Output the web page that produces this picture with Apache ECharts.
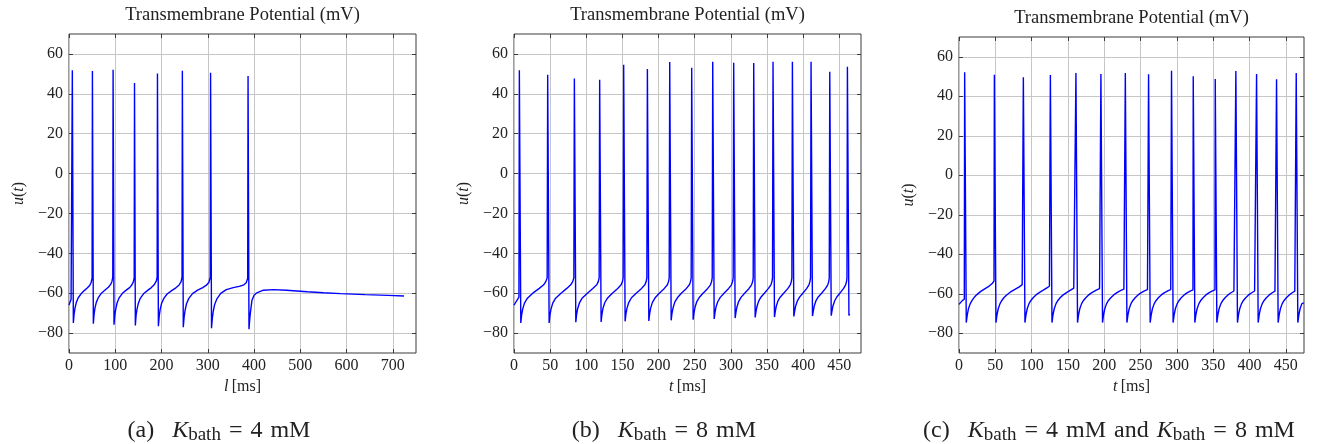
<!DOCTYPE html>
<html>
<head>
<meta charset="utf-8">
<script src="https://cdn.jsdelivr.net/npm/echarts@6/dist/echarts.min.js"></script>
<style>
  html, body { margin: 0; padding: 0; background: #fff; }
  #chart { width: 1328px; height: 444px; }
</style>
</head>
<body>
<div id="chart"></div>
<script>
// tick values
const yTicks = [-80, -60, -40, -20, 0, 20, 40, 60];
const xTicksA = [0, 100, 200, 300, 400, 500, 600, 700];
const xTicksB = [0, 50, 100, 150, 200, 250, 300, 350, 400, 450];
const xTicksC = [0, 50, 100, 150, 200, 250, 300, 350, 400, 450];

// (a) K_bath = 4 mM : [t ms, u mV]
const traceA = [
  [0,-66],[2,-64.6],[4.5,-63.2],[6.6,-62.2],[7.2,51.8],[9.4,-74.9],
  [11,-70.5],[13,-67.5],[16,-64.5],[20,-62.3],[26,-60.3],[33,-58.7],[40,-57.3],[45,-56],[48,-54.5],[49.9,-52.5],[50.6,51.4],[52.6,-75.3],
  [54.2,-70.6],[56,-67.6],[59,-64.6],[63,-62.4],[70,-60],[78,-58.4],[85,-57],[90,-55.6],[93,-54],[94.6,-52],[95.3,52.1],[97.3,-75.8],
  [99,-71],[101,-68],[104,-64.8],[108,-62.5],[115,-60.2],[123,-58.6],[131,-57.2],[136,-55.8],[139.3,-54.2],[140.9,-52.2],[141.6,45.4],[143.4,-76.2],
  [145,-71.2],[147,-68],[150,-65],[154,-62.6],[161,-60.3],[170,-58.6],[178,-57.2],[184,-55.8],[188.6,-54],[190.5,-52],[191.2,50.2],[193.2,-76.6],
  [195,-71.5],[197,-68.2],[200,-65.2],[205,-62.6],[212,-60.4],[222,-58.7],[231,-57.3],[238,-55.9],[242.3,-54.2],[244.3,-52],[245,51.6],[247,-77.1],
  [248.8,-72],[251,-68.5],[254,-65.3],[259,-62.6],[267,-60.2],[278,-58.5],[289,-57.2],[297,-56],[302.5,-54.5],[305.2,-52],[306,50.6],[308,-77.6],
  [309.8,-72.5],[312,-68.8],[315,-65.5],[320,-62.7],[328,-60.1],[340,-58.2],[355,-57.2],[368,-56.6],[378,-55.8],[383,-54.8],[386.2,-52.5],[387,48.9],[389,-78.1],
  [391,-72],[393,-68],[395.5,-63.5],[400,-61],[406,-59.8],[420,-58.5],[442,-58.2],[470,-58.5],[515,-59.3],[550,-59.8],[587,-60.2],[640,-60.7],[690,-61.1],[724,-61.4]
];

// (b) K_bath = 8 mM
const traceB = [
  [0,-66],[2,-64.8],[4.5,-63.3],[6.8,-62],[7.4,51.8],[9.4,-74.9],
  [10.5,-71],[12,-68],[14.5,-65],[18.5,-62.5],[26,-60],[35,-57.6],[41,-55.8],[44,-54.2],[45.9,-52.3],[46.6,49.6],[48.6,-74.9],
  [49.7,-71],[51.2,-68],[53.6,-65],[57.6,-62.5],[65,-60],[73,-57.6],[78.5,-55.8],[81.2,-54.2],[82.8,-52.3],[83.5,47.7],[85.5,-74.6],
  [86.6,-70.8],[88,-67.8],[90.5,-64.9],[94.5,-62.4],[101.5,-60],[109,-57.6],[114.5,-55.8],[116.6,-54.2],[117.8,-52.3],[118.5,47.1],[120.5,-74.4],
  [121.6,-70.7],[123,-67.7],[125.5,-64.8],[129.5,-62.4],[136,-60],[143.5,-57.6],[148.2,-55.8],[150,-54.2],[151,-52.3],[151.7,54.6],[153.7,-74.1],
  [154.8,-70.5],[156.2,-67.6],[158.7,-64.7],[162.5,-62.3],[169,-60],[176.5,-57.6],[181,-55.8],[182.8,-54.2],[183.8,-52.3],[184.5,52.4],[186.5,-73.9],
  [187.6,-70.4],[189,-67.5],[191.5,-64.6],[195.2,-62.3],[201,-60],[208,-57.6],[212.2,-55.8],[213.8,-54.2],[214.7,-52.3],[215.4,56],[217.4,-73.6],
  [218.5,-70.2],[220,-67.4],[222.4,-64.5],[226,-62.3],[231.5,-60],[238.5,-57.6],[242.6,-55.8],[244.2,-54.2],[245.1,-52.3],[245.8,53.1],[247.8,-73.3],
  [248.9,-70],[250.3,-67.2],[252.7,-64.4],[256.2,-62.2],[261.5,-60],[268,-57.6],[271.8,-55.8],[273.3,-54.2],[274.2,-52.3],[274.9,56.1],[276.9,-72.9],
  [278,-69.8],[279.4,-67],[281.8,-64.3],[285.3,-62.1],[290.5,-60],[297,-57.6],[300.8,-55.8],[302.3,-54.2],[303.2,-52.3],[303.9,55.6],[305.9,-72.5],
  [307,-69.6],[308.4,-66.9],[310.7,-64.2],[314,-62.1],[319,-60],[325.2,-57.6],[328.6,-55.8],[330.1,-54.2],[330.9,-52.3],[331.6,55.5],[333.6,-72.2],
  [334.7,-69.4],[336,-66.8],[338.3,-64.1],[341.5,-62],[346.3,-60],[352,-57.6],[355.4,-55.8],[356.8,-54.2],[357.6,-52.3],[358.3,56.1],[360.3,-72],
  [361.4,-69.3],[362.7,-66.7],[365,-64],[368.2,-62],[373,-60],[379,-57.6],[382.2,-55.8],[383.6,-54.2],[384.4,-52.3],[385.1,56.1],[387.1,-71.7],
  [388.2,-69.1],[389.5,-66.6],[391.8,-64],[395,-62],[399.5,-60],[405,-57.6],[408,-55.8],[409.4,-54.2],[410.2,-52.3],[410.9,56.1],[412.9,-71.5],
  [414,-69],[415.3,-66.5],[417.6,-63.9],[420.8,-61.9],[425.5,-60],[431,-57.6],[434,-55.8],[435.4,-54.2],[436.1,-52.3],[436.8,51.1],[438.8,-71.3],
  [439.9,-68.9],[441.2,-66.4],[443.5,-63.9],[446.5,-61.9],[450.8,-60],[456,-57.6],[458.7,-55.8],[460,-54.2],[460.6,-52.3],[461.2,53.6],[463.3,-71.2],[464.3,-70.4],[465,-70.6]
];

// (c) K_bath = 4 mM and K_bath = 8 mM
const traceC = [
  [0,-65.4],[2,-64.4],[4.5,-63.5],[7.3,-62.8],[7.8,52.1],[10,-74.6],
  [11.5,-70.5],[13,-67.6],[15.5,-65],[18,-63.4],[21,-61.8],[25,-60.3],[30,-58.8],[36,-57.4],[42,-56],[46,-54.7],[48.2,-53.6],[48.7,50.9],[50.9,-74.6],
  [52.4,-70.5],[54,-67.6],[56.5,-65],[59,-63.4],[62,-61.9],[66,-60.5],[71,-59.1],[77,-57.8],[83,-56.5],[87,-55.4],[88.2,-54.8],[88.6,49.6],[90.8,-74.6],
  [92.3,-70.5],[93.9,-67.6],[96.4,-65],[99,-63.4],[102,-62],[106,-60.6],[111,-59.3],[116,-58.2],[121,-57],[124.5,-56.2],[125.4,-55.8],[125.8,50.8],[128,-74.6],
  [129.5,-70.5],[131.1,-67.6],[133.6,-65],[136.2,-63.4],[139.2,-62],[143,-60.7],[148,-59.4],[153,-58.3],[158,-57.2],[160.6,-56.5],[161,51.8],[163.2,-74.6],
  [164.7,-70.5],[166.3,-67.6],[168.8,-65],[171.4,-63.4],[174.5,-62],[178.5,-60.6],[183.5,-59.3],[189,-58.2],[193.5,-57.4],[195,-57],[195.4,51.3],[197.6,-74.6],
  [199.1,-70.5],[200.7,-67.6],[203.2,-65],[205.8,-63.4],[209,-62],[213,-60.6],[218,-59.3],[223,-58.3],[227,-57.7],[228.6,-57.5],[229,51.8],[231.2,-74.6],
  [232.7,-70.5],[234.3,-67.6],[236.8,-65],[239.4,-63.4],[242.5,-62],[246.5,-60.6],[251,-59.4],[256,-58.4],[259.5,-57.9],[260.6,-57.8],[261,51.1],[263.2,-74.6],
  [264.7,-70.5],[266.3,-67.6],[268.8,-65],[271.4,-63.4],[274.5,-62],[278.5,-60.6],[283,-59.4],[288,-58.4],[291.5,-57.9],[292.2,-57.8],[292.6,52.9],[294.8,-74.6],
  [296.3,-70.5],[297.9,-67.6],[300.4,-65],[303,-63.4],[306,-62],[310,-60.6],[314.5,-59.4],[319,-58.5],[322.1,-58],[322.5,50.1],[324.7,-74.6],
  [326.2,-70.5],[327.8,-67.6],[330.3,-65],[332.9,-63.4],[336,-62],[340,-60.6],[344.5,-59.4],[349,-58.5],[352.4,-58],[352.8,48.7],[355,-74.6],
  [356.5,-70.5],[358.1,-67.6],[360.6,-65],[363.2,-63.4],[366.3,-62],[370.3,-60.6],[374.5,-59.5],[378.5,-58.6],[380.8,-58.1],[381.2,52.8],[383.4,-74.6],
  [384.9,-70.5],[386.5,-67.6],[389,-65],[391.6,-63.4],[394.7,-62],[398.7,-60.6],[403,-59.5],[407,-58.6],[409.3,-58.1],[409.7,51.3],[411.9,-74.6],
  [413.4,-70.5],[415,-67.6],[417.5,-65],[420.1,-63.4],[423.2,-62],[427.2,-60.6],[431.3,-59.5],[435,-58.7],[436.8,-58.2],[437.2,48.6],[439.4,-74.6],
  [440.9,-70.5],[442.5,-67.6],[445,-65],[447.6,-63.4],[450.7,-62],[454.7,-60.6],[458.8,-59.5],[462.3,-58.7],[463.9,-58.2],[464.3,51.8],[466.5,-74.6],
  [468,-70.5],[469.6,-67.6],[472.1,-65],[474.8,-64.6]
];

const plotTitle = 'Transmembrane Potential (mV)';
const xNames = ['l', 't', 't'];
const captions = [
  '{r|(a) \u2002}{i|K}{s|bath}{r| \u200A= \u200A4 \u200AmM}',
  '{r|(b) \u2002}{i|K}{s|bath}{r| \u200A= \u200A8 \u200AmM}',
  '{r|(c) \u2002}{i|K}{s|bath}{r| \u200A= \u200A4 \u200AmM \u200Aand \u200A}{i|K}{s|bath}{r| \u200A= \u200A8 \u200AmM}'
];

const serif = '"Liberation Serif", "DejaVu Serif", serif';
const ink = '#222';
const frame = '#3a3a3a';

const panels = [
  { left: 69,  top: 34, width: 347, height: 319, xMax: 750, xTicks: xTicksA, data: traceA, mid: 219 },
  { left: 514, top: 34, width: 347, height: 319, xMax: 480, xTicks: xTicksB, data: traceB, mid: 664 },
  { left: 959, top: 37, width: 345, height: 316, xMax: 475, xTicks: xTicksC, data: traceC, mid: 1109 }
];

const fmt = (v) => (v < 0 ? '\u2212' + Math.abs(v) : String(v));

const option = {
  animation: false,
  backgroundColor: '#fff',
  title: [],
  grid: [],
  xAxis: [],
  yAxis: [],
  series: []
};

panels.forEach((p, i) => {
  option.grid.push({
    left: p.left, top: p.top, width: p.width, height: p.height,
    show: true, borderColor: frame, borderWidth: 1, backgroundColor: 'transparent'
  });

  // plot title
  option.title.push({
    text: plotTitle,
    left: p.left + p.width / 2,
    top: 6 + (p.top - 34),
    textAlign: 'center',
    padding: 0,
    textStyle: { fontFamily: serif, fontSize: 18.5, fontWeight: 'normal', color: ink }
  });

  // caption under the panel
  option.title.push({
    text: captions[i],
    left: p.mid,
    top: 416,
    textAlign: 'center',
    padding: 0,
    textStyle: {
      fontWeight: 'normal',
      rich: {
        r: { fontFamily: serif, fontSize: 24, fontWeight: 'normal', color: ink },
        i: { fontFamily: serif, fontSize: 24, fontWeight: 'normal', fontStyle: 'italic', color: ink },
        s: { fontFamily: serif, fontSize: 19, fontWeight: 'normal', color: ink, padding: [10, 0, 0, 0] }
      }
    }
  });

  const tickStyle = { inside: true, length: 4, lineStyle: { color: frame, width: 1 } };

  option.xAxis.push({
    type: 'value', gridIndex: i, position: 'bottom', min: 0, max: p.xMax,
    axisLine: { show: false, onZero: false },
    axisTick: Object.assign({ customValues: p.xTicks }, tickStyle),
    axisLabel: { customValues: p.xTicks, margin: 5, fontFamily: serif, fontSize: 16, color: ink, formatter: fmt },
    splitLine: { show: true, lineStyle: { color: '#c6c6c6', width: 1 } },
    name: '{i|' + xNames[i] + '} {r|[ms]}',
    nameLocation: 'middle',
    nameGap: 26,
    nameTextStyle: {
      rich: {
        i: { fontFamily: serif, fontSize: 16, fontStyle: 'italic', color: ink },
        r: { fontFamily: serif, fontSize: 16, color: ink }
      }
    }
  });
  option.xAxis.push({
    type: 'value', gridIndex: i, position: 'top', min: 0, max: p.xMax,
    axisLine: { show: false, onZero: false },
    axisTick: Object.assign({ customValues: p.xTicks }, tickStyle),
    axisLabel: { show: false },
    splitLine: { show: false }
  });

  option.yAxis.push({
    type: 'value', gridIndex: i, position: 'left', min: -90, max: 70,
    axisLine: { show: false, onZero: false },
    axisTick: Object.assign({ customValues: yTicks }, tickStyle),
    axisLabel: { customValues: yTicks, margin: 6, fontFamily: serif, fontSize: 16, color: ink, formatter: fmt },
    splitLine: { show: true, lineStyle: { color: '#c6c6c6', width: 1 } },
    name: '{i|u}{r|(}{i|t}{r|)}',
    nameLocation: 'middle',
    nameRotate: 90,
    nameGap: 42,
    nameTextStyle: {
      rich: {
        i: { fontFamily: serif, fontSize: 16, fontStyle: 'italic', color: ink },
        r: { fontFamily: serif, fontSize: 16, color: ink }
      }
    }
  });
  option.yAxis.push({
    type: 'value', gridIndex: i, position: 'right', min: -90, max: 70,
    axisLine: { show: false, onZero: false },
    axisTick: Object.assign({ customValues: yTicks }, tickStyle),
    axisLabel: { show: false },
    splitLine: { show: false }
  });

  option.series.push({
    type: 'line',
    xAxisIndex: i * 2,
    yAxisIndex: i * 2,
    data: p.data,
    showSymbol: false,
    symbol: 'none',
    sampling: null,
    lineStyle: { color: '#0000ff', width: 1.4 },
    z: 3
  });
});

const chart = echarts.init(document.getElementById('chart'));
chart.setOption(option);
</script>
</body>
</html>
